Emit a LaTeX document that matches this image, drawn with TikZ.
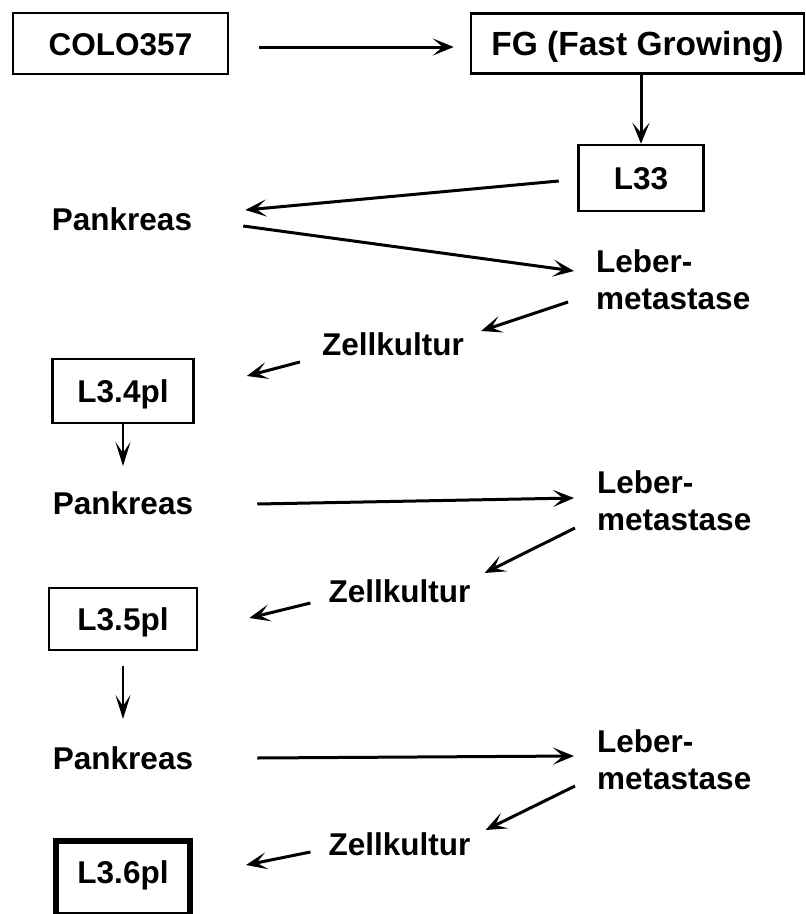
\documentclass[tikz,border=0pt]{standalone}
\usepackage{fontspec}
\setmainfont{Liberation Sans}
\usetikzlibrary{arrows.meta}

\begin{document}
\begin{tikzpicture}[x=1pt,y=-1pt,
		every node/.style={font=\fontsize{31.5}{37}\selectfont\bfseries, inner sep=0pt},
		box/.style={draw, line width=2.5pt, text height=23pt, text depth=0pt},
		arr/.style={line width=3pt, -{Stealth[length=21pt,width=17pt,inset=10pt]}},
		darr/.style={line width=2.5pt, -{Stealth[length=24pt,width=15pt,inset=11pt]}}]
		\useasboundingbox (0,0) rectangle (806,914);
		% boxes
		\node[box, minimum width=215pt, minimum height=61pt] (colo) at (120.5,43.5) {COLO357};
		\node[box, minimum width=333pt, minimum height=60pt, font=\fontsize{33.5}{37}\selectfont\bfseries] (fg) at (637.5,43.5) {FG (Fast Growing)};
		\node[box, minimum width=125pt, minimum height=66pt] (l33) at (641,178) {L33};
		\node[box, minimum width=141pt, minimum height=64pt] (l34) at (123,391) {L3.4pl};
		\node[box, minimum width=148pt, minimum height=62pt] (l35) at (123,619) {L3.5pl};
		\node[box, line width=6pt, text depth=12pt, minimum width=134pt, minimum height=74pt] (l36) at (123,878) {L3.6pl};
		% organs and culture
		\node[anchor=base] (pank1) at (122,230) {Pankreas};
		\node[anchor=base west, align=left] (leber1) at (596,309) {Leber-\\metastase};
		\node[anchor=base] (zell1) at (393,355) {Zellkultur};
		\node[anchor=base] (pank2) at (123,514) {Pankreas};
		\node[anchor=base west, align=left] (leber2) at (597,530) {Leber-\\metastase};
		\node[anchor=base] (zell2) at (399.5,602) {Zellkultur};
		\node[anchor=base] (pank3) at (123,769) {Pankreas};
		\node[anchor=base west, align=left] (leber3) at (597,789) {Leber-\\metastase};
		\node[anchor=base] (zell3) at (399.5,855) {Zellkultur};
		% arrows
		\draw[arr] ([shift={(30,3.5)}]colo.east) -- ([shift={(-16,3.5)}]fg.west);
		\draw[arr] (fg.south -| l33.north) -- (l33.north);
		\draw[arr] ([shift={(-18.5,3)}]l33.west) -- ([shift={(53,-20)}]pank1.base east);
		\draw[arr] ([shift={(51,-4)}]pank1.base east) -- ([shift={(-22,-38)}]leber1.base west);
		\draw[arr] ([shift={(-28,-7)}]leber1.base west) -- ([shift={(17,-24)}]zell1.base east);
		\draw[arr] ([shift={(-22,7)}]zell1.base west) -- ([shift={(52,-15)}]l34.east);
		\draw[darr] (l34.south) -- ([yshift=25pt]pank2.north);
		\draw[arr] ([shift={(64,-10)}]pank2.base east) -- ([shift={(-23,-32)}]leber2.base west);
		\draw[arr] ([shift={(-22,-2)}]leber2.base west) -- ([shift={(14,-29)}]zell2.base east);
		\draw[arr] ([shift={(-18,1)}]zell2.base west) -- ([shift={(51,-1)}]l35.east);
		\draw[darr] ([yshift=-15pt]l35.south) -- ([yshift=27pt]pank3.north);
		\draw[arr] ([shift={(64,-11)}]pank3.base east) -- ([shift={(-23,-33)}]leber3.base west);
		\draw[arr] ([shift={(-22,-3)}]leber3.base west) -- ([shift={(15,-25)}]zell3.base east);
		\draw[arr] ([shift={(-18,-3)}]zell3.base west) -- ([shift={(53,-13)}]l36.east);
\end{tikzpicture}
\end{document}
